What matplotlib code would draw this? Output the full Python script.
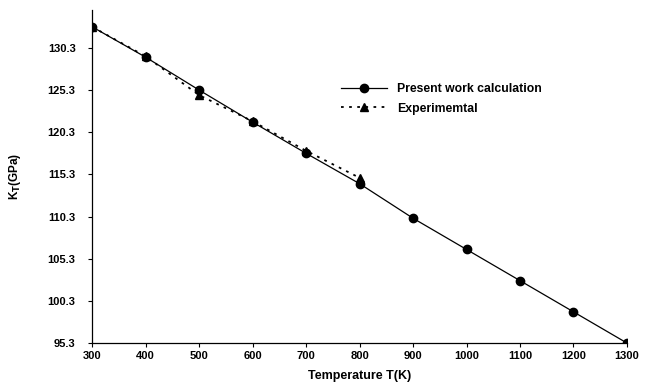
import matplotlib
matplotlib.use("Agg")
import matplotlib.pyplot as plt

# temperatures (K) and isothermal bulk modulus K_T (GPa)
temp_calc = [300, 400, 500, 600, 700, 800, 900, 1000, 1100, 1200, 1300]
kt_calc = [132.8, 129.2, 125.3, 121.5, 117.8, 114.2, 110.1, 106.4, 102.7, 99.0, 95.3]

temp_exp = [300, 400, 500, 600, 700, 800]
kt_exp = [132.8, 129.3, 124.7, 121.6, 118.1, 114.9]

yticks = [95.3, 100.3, 105.3, 110.3, 115.3, 120.3, 125.3, 130.3]
xticks = [300, 400, 500, 600, 700, 800, 900, 1000, 1100, 1200, 1300]

plt.rcParams["font.family"] = ["Liberation Sans", "DejaVu Sans"]
plt.rcParams["font.weight"] = "bold"

fig = plt.figure(figsize=(6.45, 3.85), dpi=100)
ax = fig.add_axes([0.143, 0.109, 0.829, 0.865])

ax.plot(temp_calc, kt_calc, color="black", lw=0.9, marker="o", ms=6,
        label="Present work calculation")
ax.plot(temp_exp, kt_exp, color="black", lw=1.3, ls=(0, (1.5, 3)), marker="^", ms=6,
        label="Experimemtal")

ax.set_xlim(300, 1300)
ax.set_ylim(95.3, 134.8)
ax.set_xticks(xticks)
ax.set_yticks(yticks)
ax.set_yticklabels([f"{v:.1f}" for v in yticks])
ax.tick_params(labelsize=8, length=3, width=0.8, pad=3)
ax.tick_params(axis="y", pad=9)
for lab in ax.get_xticklabels() + ax.get_yticklabels():
    lab.set_fontweight("bold")

for side in ("top", "right"):
    ax.spines[side].set_visible(False)
for side in ("left", "bottom"):
    ax.spines[side].set_linewidth(0.9)

ax.set_xlabel("Temperature T(K)", fontsize=9, fontweight="bold", labelpad=6)
ax.set_ylabel("K$_{\\mathbf{T}}$(GPa)", fontsize=8.5, fontweight="bold",
              va="center")
ax.yaxis.set_label_coords(-0.144, 0.5)

leg = ax.legend(loc="upper left", bbox_to_anchor=(0.456, 0.795), frameon=False,
                fontsize=8.8, handlelength=3.8, handletextpad=0.8,
                labelspacing=0.6, borderaxespad=0)
for t in leg.get_texts():
    t.set_fontweight("bold")

fig.savefig("out.png", dpi=100)
